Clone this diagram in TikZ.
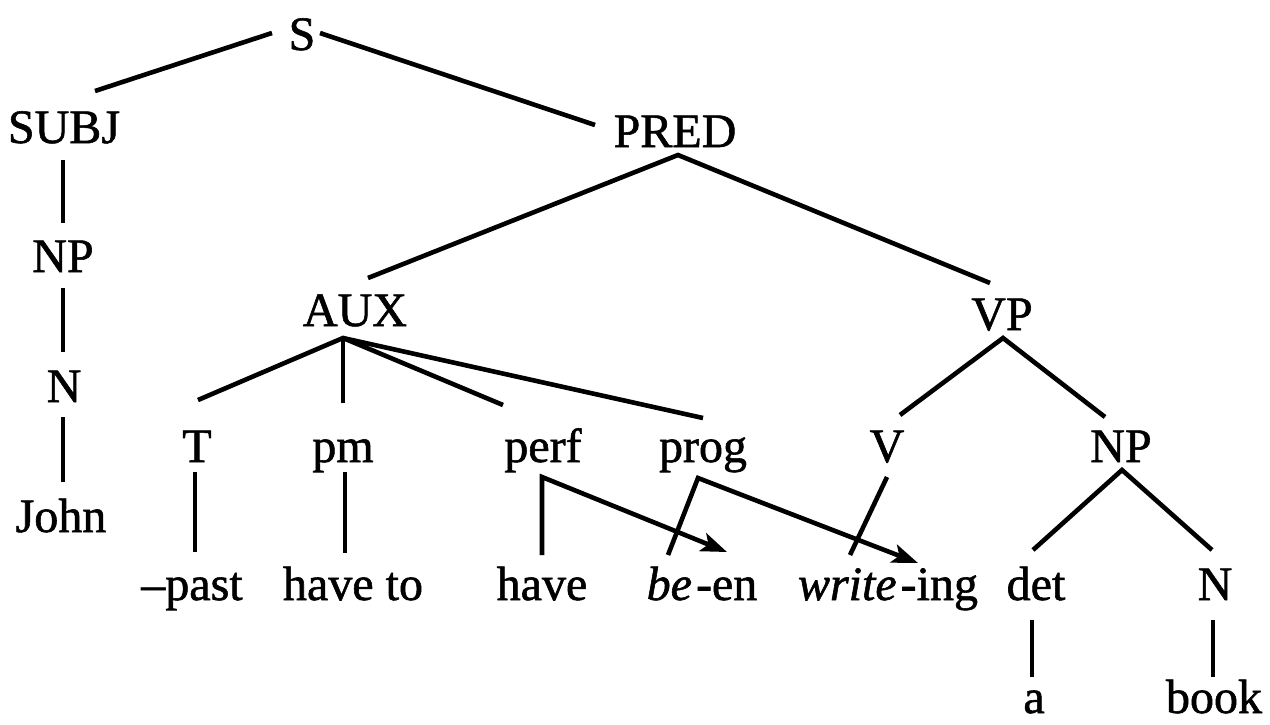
\documentclass[tikz,border=0pt]{standalone}
\usepackage{fontspec}
\setmainfont[FakeBold=1.2]{Liberation Serif}
\usetikzlibrary{calc,arrows.meta}
\tikzset{
  lbl/.style={anchor=base, inner sep=0pt, font=\fontsize{48}{56}\selectfont},
  branch/.style={line width=4.6pt, line cap=butt, line join=miter},
  move/.style={branch, -{Stealth[length=26pt,width=19pt,inset=6pt]}}
}
\begin{document}
\begin{tikzpicture}[x=1pt,y=-1pt]
\useasboundingbox (0,0) rectangle (1270,724);
\fill[white] (0,0) rectangle (1270,724);
% labels, placed on their baselines
\node[lbl] (S)    at (302,50)  {S};
\node[lbl] (SUBJ) at (64,143)  {SUBJ};
\node[lbl] (PRED) at (675,147) {PRED};
\node[lbl] (NPa)  at (63,272)  {NP};
\node[lbl] (Na)   at (64,402)  {N};
\node[lbl] (John) at (61,532)  {John};
\node[lbl] (AUX)  at (355,326) {AUX};
\node[lbl] (VP)   at (1002,330) {VP};
\node[lbl] (T)    at (197,462) {T};
\node[lbl] (pm)   at (343,462) {pm};
\node[lbl] (perf) at (543,462) {perf};
\node[lbl] (prog) at (703,462) {prog};
\node[lbl] (V)    at (887,462) {V};
\node[lbl] (NPb)  at (1121,462) {NP};
\node[lbl] (past) at (192,600) {–past};
\node[lbl] (haveto) at (353,600) {have to};
\node[lbl] (have) at (542,600) {have};
\node[lbl] (been) at (702,600) {\textit{be}\kern4pt-en};
\node[lbl] (writeing) at (888,600) {\textit{write}\kern4pt-ing};
\node[lbl] (det)  at (1036,600) {det};
\node[lbl] (Nb)   at (1215,600) {N};
\node[lbl] (a)    at (1034,713) {a};
\node[lbl] (book) at (1214,713) {book};
% tree branches
\draw[branch] ($(S.base)+(-30,-17)$) -- ($(SUBJ.base)+(31,-52)$);
\draw[branch] ($(S.base)+(18,-17)$) -- ($(PRED.base)+(-80,-22)$);
\draw[branch] ($(SUBJ.base)+(-1,17)$) -- ($(NPa.base)+(0,-49)$);
\draw[branch] ($(NPa.base)+(0,16)$) -- ($(Na.base)+(-1,-50)$);
\draw[branch] ($(Na.base)+(-1,15)$) -- ($(John.base)+(2,-50)$);
\draw[branch] ($(AUX.base)+(13,-48)$) -- ($(PRED.base)+(3,8)$) -- ($(VP.base)+(-12,-47)$);
\draw[branch] ($(T.base)+(1,-62)$) -- ($(AUX.base)+(-12,12)$) -- ($(perf.base)+(-40,-57)$);
\draw[branch] ($(AUX.base)+(-12,12)$) -- ($(pm.base)+(0,-59)$);
\draw[branch] ($(AUX.base)+(-12,12)$) -- ($(prog.base)+(0,-44)$);
\draw[branch] ($(V.base)+(13,-47)$) -- ($(VP.base)+(1,8)$) -- ($(NPb.base)+(-16,-45)$);
\draw[branch] ($(det.base)+(-3,-50)$) -- ($(NPb.base)+(1,8)$) -- ($(Nb.base)+(-3,-50)$);
\draw[branch] ($(T.base)+(-2,10)$) -- ($(past.base)+(3,-48)$);
\draw[branch] ($(pm.base)+(2,10)$) -- ($(haveto.base)+(-8,-47)$);
\draw[branch] ($(V.base)+(0,15)$) -- ($(writeing.base)+(-38,-45)$);
\draw[branch] ($(det.base)+(-4,20)$) -- ($(a.base)+(-2,-36)$);
\draw[branch] ($(Nb.base)+(-2,20)$) -- ($(book.base)+(-1,-36)$);
% affix hopping arrows
\draw[move] ($(have.base)+(0,-45)$) -- ($(perf.base)+(-1,15)$) -- ($(been.base)+(25,-48)$);
\draw[move] ($(been.base)+(-34,-45)$) -- ($(prog.base)+(-5,16)$) -- ($(writeing.base)+(30,-37)$);
\end{tikzpicture}
\end{document}
